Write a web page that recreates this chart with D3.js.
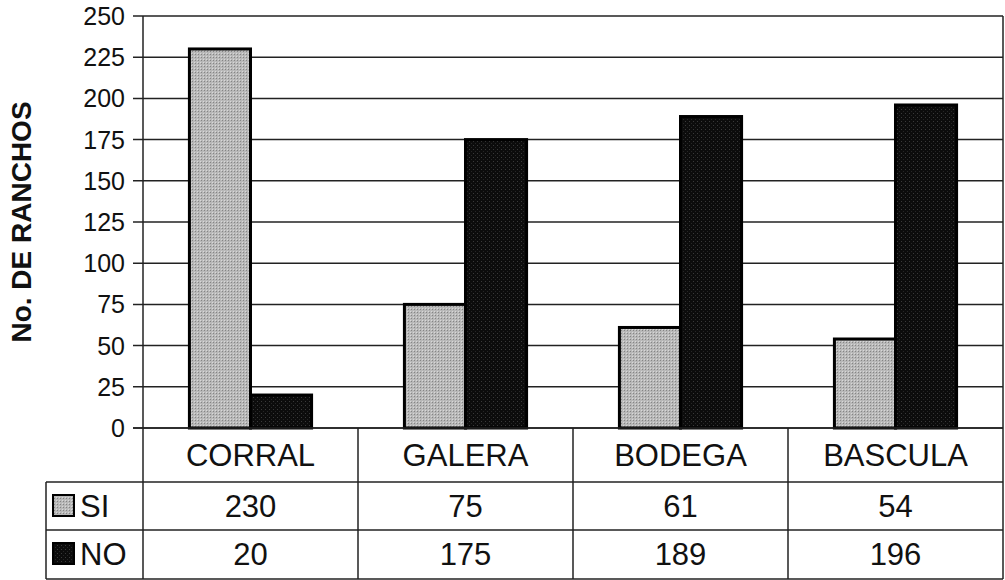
<!DOCTYPE html>
<html lang="es">
  <head>
    <meta charset="UTF-8">
    <title>No. de ranchos</title>
    <script src="https://d3js.org/d3.v7.min.js"></script>
    <style>
      * { margin: 0; padding: 0; }
      body { background: #fff; }
      body > svg { display: block; }
      text { font-family: Arial, "Liberation Sans", sans-serif; fill: #111; }
    </style>
  </head>
  <body>
    <script>
      var categories = ["CORRAL", "GALERA", "BODEGA", "BASCULA"];
      var seriesNames = ["SI", "NO"];
      var siValues = [230, 75, 61, 54];
      var noValues = [20, 175, 189, 196];
      var yTicks = [0, 25, 50, 75, 100, 125, 150, 175, 200, 225, 250];

      var width = 1005, height = 580;
      var plotLeft = 143, plotRight = 1003, plotTop = 16, axisY = 428;
      var tableLeft = 46, row1 = 482, row2 = 530, tableBottom = 579;

      var series = [
        { name: "SI", values: siValues, fill: "url(#dotsLight)" },
        { name: "NO", values: noValues, fill: "url(#dotsDark)" }
      ];

      var svg = d3.select("body").append("svg")
        .attr("width", width)
        .attr("height", height);

      var defs = svg.append("defs");
      var pl = defs.append("pattern").attr("id", "dotsLight")
        .attr("width", 3).attr("height", 3).attr("patternUnits", "userSpaceOnUse");
      pl.append("rect").attr("width", 3).attr("height", 3).attr("fill", "#b8b8b8");
      pl.append("rect").attr("width", 1).attr("height", 1).attr("fill", "#858585");
      pl.append("rect").attr("x", 2).attr("y", 2).attr("width", 1).attr("height", 1).attr("fill", "#d8d8d8");
      var pd = defs.append("pattern").attr("id", "dotsDark")
        .attr("width", 4).attr("height", 4).attr("patternUnits", "userSpaceOnUse");
      pd.append("rect").attr("width", 4).attr("height", 4).attr("fill", "#0c0c0c");
      pd.append("rect").attr("x", 1).attr("y", 1).attr("width", 1).attr("height", 1).attr("fill", "#3a3a3a");
      pd.append("rect").attr("x", 3).attr("y", 3).attr("width", 1).attr("height", 1).attr("fill", "#262626");

      var x = d3.scaleBand().domain(categories).range([plotLeft, plotRight]);
      var xs = d3.scaleBand().domain(seriesNames).range([0, x.bandwidth()]).paddingOuter(0.76);
      var y = d3.scaleLinear().domain([0, 250]).range([axisY, plotTop]);

      // gridlines + ticks
      svg.append("g").selectAll("line").data(yTicks).enter().append("line")
        .attr("x1", plotLeft - 10).attr("x2", plotRight)
        .attr("y1", function (d) { return y(d); })
        .attr("y2", function (d) { return y(d); })
        .attr("stroke", "#222").attr("stroke-width", 1.5);

      svg.append("g").selectAll("text").data(yTicks).enter().append("text")
        .attr("x", 125)
        .attr("y", function (d) { return y(d); })
        .attr("dy", "0.36em")
        .attr("text-anchor", "end")
        .attr("font-size", 25)
        .text(function (d) { return d; });

      // bars
      var groups = svg.append("g").selectAll("g").data(series).enter().append("g");
      groups.selectAll("rect")
        .data(function (s) {
          return s.values.map(function (v, i) { return { cat: categories[i], v: v, s: s }; });
        })
        .enter().append("rect")
        .attr("x", function (d) { return x(d.cat) + xs(d.s.name); })
        .attr("y", function (d) { return y(d.v); })
        .attr("width", xs.bandwidth())
        .attr("height", function (d) { return axisY - y(d.v); })
        .attr("fill", function (d) { return d.s.fill; })
        .attr("stroke", "#000").attr("stroke-width", 3);

      // table lines
      var lines = svg.append("g").attr("stroke", "#222").attr("stroke-width", 1.5);
      lines.append("line").attr("x1", plotLeft).attr("x2", plotLeft).attr("y1", plotTop).attr("y2", tableBottom);
      lines.append("line").attr("x1", plotRight).attr("x2", plotRight).attr("y1", plotTop).attr("y2", tableBottom);
      lines.append("line").attr("x1", plotLeft - 10).attr("x2", plotRight).attr("y1", axisY).attr("y2", axisY);
      categories.slice(1).forEach(function (c) {
        lines.append("line").attr("x1", x(c)).attr("x2", x(c)).attr("y1", axisY).attr("y2", tableBottom);
      });
      [row1, row2, tableBottom].forEach(function (yy) {
        lines.append("line").attr("x1", tableLeft).attr("x2", plotRight).attr("y1", yy).attr("y2", yy);
      });
      lines.append("line").attr("x1", tableLeft).attr("x2", tableLeft).attr("y1", row1).attr("y2", tableBottom);

      // category labels
      svg.append("g").selectAll("text").data(categories).enter().append("text")
        .attr("x", function (d) { return x(d) + x.bandwidth() / 2; })
        .attr("y", 466)
        .attr("text-anchor", "middle")
        .attr("font-size", 31)
        .text(function (d) { return d; });

      // table values + legend
      var rowsY = [row1, row2];
      series.forEach(function (s, si) {
        var cy = rowsY[si] + 24;
        svg.append("g").selectAll("text").data(s.values).enter().append("text")
          .attr("x", function (d, i) { return x(categories[i]) + x.bandwidth() / 2; })
          .attr("y", cy + 11)
          .attr("text-anchor", "middle")
          .attr("font-size", 31)
          .text(function (d) { return d; });
        svg.append("rect")
          .attr("x", 53).attr("y", cy - 11)
          .attr("width", 21).attr("height", 21)
          .attr("fill", s.fill)
          .attr("stroke", "#000").attr("stroke-width", 2);
        svg.append("text")
          .attr("x", 80).attr("y", cy + 11)
          .attr("font-size", 31)
          .text(s.name);
      });

      // y title
      svg.append("text")
        .attr("transform", "translate(31,222) rotate(-90)")
        .attr("text-anchor", "middle")
        .attr("font-size", 28)
        .attr("font-weight", "bold")
        .text("No. DE RANCHOS");
    </script>
  </body>
</html>
